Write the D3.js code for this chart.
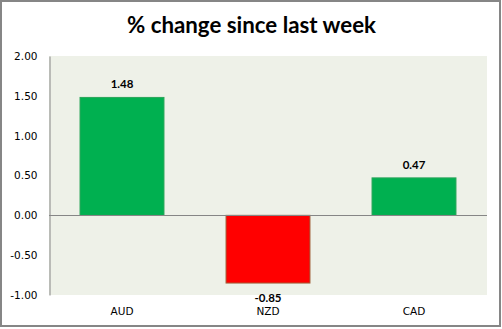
<!DOCTYPE html>
<html><head><meta charset="utf-8">
<script src="https://cdn.jsdelivr.net/npm/d3@7"></script>
<style>html,body{margin:0;padding:0;background:#fff;}svg{display:block;}</style>
</head><body>
<svg id="c" width="502" height="329"></svg>
<script>
const title = "% change since last week";
const categories = ["AUD", "NZD", "CAD"];
const values = [1.48, -0.85, 0.47];
const yTicks = [2.00, 1.50, 1.00, 0.50, 0.00, -0.50, -1.00];
const yDomain = [-1, 2];

const fmt = d => d3.format(".2f")(d).replace("\u2212", "-");

const svg = d3.select("#c");
const W = 502, H = 329;
const plot = {left: 49, right: 487, top: 56, bottom: 295};

// outer border
svg.append("rect").attr("x", 1).attr("y", 1).attr("width", W - 3).attr("height", H - 4)
  .attr("fill", "#fff").attr("stroke", "#868686").attr("stroke-width", 2);

const x = d3.scaleBand().domain(categories).range([plot.left, plot.right])
  .paddingInner(0.425).paddingOuter(0.2125);
const y = d3.scaleLinear().domain(yDomain).range([plot.bottom, plot.top]);

// plot area bg
svg.append("rect").attr("x", plot.left).attr("y", plot.top)
  .attr("width", plot.right - plot.left).attr("height", plot.bottom - plot.top)
  .attr("fill", "#EEF1E8");

// title
svg.append("text").attr("x", 251.5).attr("y", 33).attr("text-anchor", "middle")
  .attr("font-family", "Lato, 'Open Sans', sans-serif").attr("font-weight", "bold")
  .attr("font-size", 22.3).attr("fill", "#000").text(title);

// bars
svg.selectAll("rect.bar").data(values).join("rect").attr("class", "bar")
  .attr("x", (d, i) => x(categories[i]))
  .attr("width", x.bandwidth())
  .attr("y", d => y(Math.max(0, d)))
  .attr("height", d => Math.abs(y(d) - y(0)))
  .attr("fill", d => d >= 0 ? "#00B050" : "#FF0000")
  .attr("stroke", d => d >= 0 ? "#2AA55A" : "#A0603A")
  .attr("stroke-width", 1);

// zero line
svg.append("line").attr("x1", plot.left).attr("x2", plot.right)
  .attr("y1", Math.round(y(0)) + 0.5).attr("y2", Math.round(y(0)) + 0.5)
  .attr("stroke", "#868686").attr("stroke-width", 1);

// y axis
const yAxis = d3.axisLeft(y).tickValues(yTicks).tickFormat(fmt).tickSize(0).tickPadding(12);
const gy = svg.append("g").attr("transform", `translate(${plot.left + 0.5},0)`).call(yAxis);
gy.select(".domain").attr("stroke", "#868686");
gy.selectAll("text").attr("font-family", "'DejaVu Sans', sans-serif").attr("font-size", 10.5).attr("fill", "#000");

// x axis labels
const xAxis = d3.axisBottom(x).tickSize(0).tickPadding(0);
const gx = svg.append("g").attr("transform", `translate(0,308)`).call(xAxis);
gx.select(".domain").remove();
gx.selectAll("text").attr("font-family", "'DejaVu Sans', sans-serif").attr("font-size", 10.5).attr("fill", "#000");

// data labels
svg.selectAll("text.lbl").data(values).join("text").attr("class", "lbl")
  .attr("x", (d, i) => x(categories[i]) + x.bandwidth() / 2)
  .attr("y", d => d >= 0 ? y(d) - 9 : y(d) + 19)
  .attr("text-anchor", "middle")
  .attr("font-family", "Lato, sans-serif").attr("font-weight", "bold").attr("font-size", 11.5)
  .attr("fill", "#000").text(fmt);
</script>
</body></html>
